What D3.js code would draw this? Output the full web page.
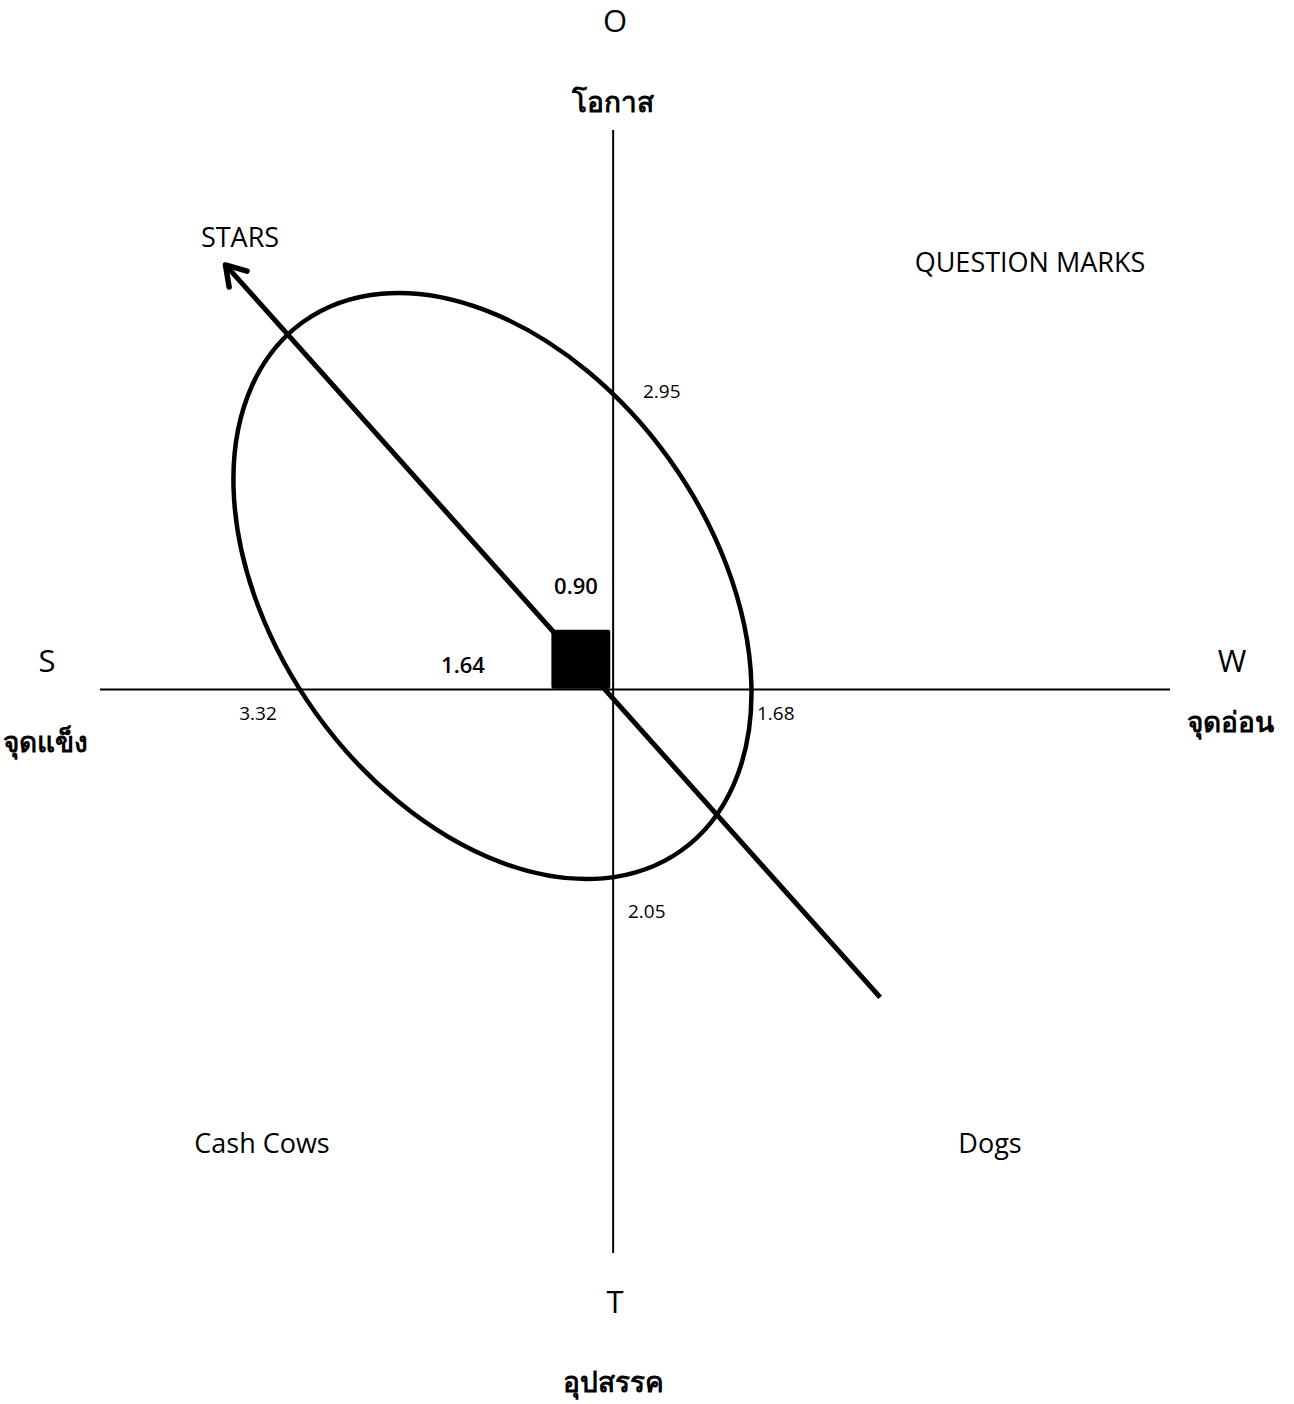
<!DOCTYPE html>
<html>
<head>
<meta charset="utf-8">
<script src="https://cdn.jsdelivr.net/npm/d3@7"></script>
<style>
  body { margin: 0; background: #fff; }
  text { font-family: "Open Sans", "Noto Sans", sans-serif; fill: #000; }
</style>
</head>
<body>
<div id="chart"></div>
<script>
// SWOT scores
var axisKeys = ["S", "W", "O", "T"];
var axisNames = ["จุดแข็ง", "จุดอ่อน", "โอกาส", "อุปสรรค"];
var axisScores = [3.32, 1.68, 2.95, 2.05];
var resultLabels = ["1.64", "0.90"];
var quadrantNames = ["STARS", "QUESTION MARKS", "Cash Cows", "Dogs"];

// shape geometry in chart units
var arrowFrom = [2.81, -3.24];
var arrowTo = [-4.08, 4.47];
var markerBox = [-0.65, 0.01, 0.62];     // x0, y0, side
var ellipseCenter = [-1.27, 1.09];
var ellipseRadii = [3.42, 2.29];
var ellipseTilt = 54.4;

var width = 1294, height = 1404;

var x = d3.scaleLinear().domain([-5.4, 5.86]).range([100, 1170]);
var y = d3.scaleLinear().domain([-5.93, 5.89]).range([1253, 130]);
var k = x(1) - x(0);

var svg = d3.select("#chart")
  .append("svg")
  .attr("width", width)
  .attr("height", height);

// axes
svg.append("line")
  .attr("x1", x.range()[0]).attr("x2", x.range()[1])
  .attr("y1", y(0)).attr("y2", y(0))
  .attr("stroke", "#000").attr("stroke-width", 2);
svg.append("line")
  .attr("x1", x(0)).attr("x2", x(0))
  .attr("y1", y.range()[1]).attr("y2", y.range()[0])
  .attr("stroke", "#000").attr("stroke-width", 2);

// ellipse
svg.append("ellipse")
  .attr("cx", 0).attr("cy", 0)
  .attr("rx", ellipseRadii[0] * k)
  .attr("ry", ellipseRadii[1] * k)
  .attr("transform", "translate(" + x(ellipseCenter[0]) + "," + y(ellipseCenter[1]) + ") rotate(" + ellipseTilt + ")")
  .attr("fill", "none")
  .attr("stroke", "#000")
  .attr("stroke-width", 4.5);

// arrow
svg.append("defs").append("marker")
  .attr("id", "head")
  .attr("viewBox", "-30 -20 40 40")
  .attr("refX", 0).attr("refY", 0)
  .attr("markerWidth", 40).attr("markerHeight", 40)
  .attr("markerUnits", "userSpaceOnUse")
  .attr("orient", "auto")
  .style("overflow", "visible")
  .append("path")
  .attr("d", "M-19,-12L0,0L-19,12")
  .attr("fill", "none")
  .attr("stroke", "#000")
  .attr("stroke-width", 5.5)
  .attr("stroke-linecap", "round")
  .attr("stroke-linejoin", "round");

svg.append("line")
  .attr("x1", x(arrowFrom[0])).attr("y1", y(arrowFrom[1]))
  .attr("x2", x(arrowTo[0])).attr("y2", y(arrowTo[1]))
  .attr("stroke", "#000")
  .attr("stroke-width", 5)
  .attr("marker-end", "url(#head)");

// marker square
svg.append("rect")
  .attr("x", x(markerBox[0]))
  .attr("y", y(markerBox[1] + markerBox[2]))
  .attr("width", x(markerBox[0] + markerBox[2]) - x(markerBox[0]))
  .attr("height", y(markerBox[1]) - y(markerBox[1] + markerBox[2]))
  .attr("rx", 2)
  .attr("fill", "#000");

// axis letters and names
var ends = [
  { px: 47, py: 672, ny: 752 },
  { px: 1232, py: 672, ny: 732 },
  { px: 615, py: 32, ny: 112 },
  { px: 615, py: 1313, ny: 1392 }
];
axisKeys.forEach(function(key, i) {
  svg.append("text")
    .attr("x", ends[i].px).attr("y", ends[i].py)
    .attr("text-anchor", "middle")
    .attr("font-size", "31px")
    .text(key);
  svg.append("text")
    .attr("x", ends[i].px - 2).attr("y", ends[i].ny)
    .attr("text-anchor", "middle")
    .attr("font-size", "28px")
    .attr("font-weight", "bold")
    .text(axisNames[i]);
});

// score labels
var scorePos = [
  { x: 258, y: 720, a: "middle" },
  { x: 757, y: 720, a: "start" },
  { x: 643, y: 398, a: "start" },
  { x: 628, y: 918, a: "start" }
];
axisScores.forEach(function(v, i) {
  svg.append("text")
    .attr("x", scorePos[i].x).attr("y", scorePos[i].y)
    .attr("text-anchor", scorePos[i].a)
    .attr("font-size", "19px")
    .attr("fill", "#222")
    .text(d3.format(".2f")(v));
});

// result labels
var resultPos = [[463, 673], [576, 594]];
resultLabels.forEach(function(r, i) {
  svg.append("text")
    .attr("x", resultPos[i][0]).attr("y", resultPos[i][1])
    .attr("text-anchor", "middle")
    .attr("font-size", "22px")
    .attr("font-weight", 600)
    .text(r);
});

// quadrant names
var quadPos = [[240, 247], [1030, 272], [262, 1153], [990, 1153]];
quadrantNames.forEach(function(q, i) {
  svg.append("text")
    .attr("x", quadPos[i][0]).attr("y", quadPos[i][1])
    .attr("text-anchor", "middle")
    .attr("font-size", "27px")
    .text(q);
});
</script>
</body>
</html>
